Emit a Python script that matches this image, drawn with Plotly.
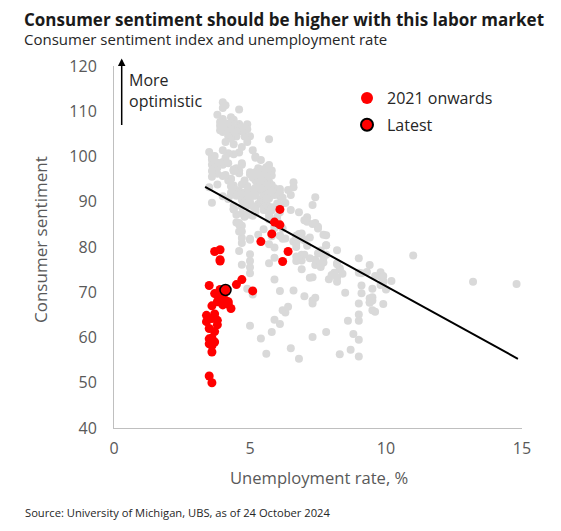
import plotly.graph_objects as go

# Monthly history 1990-2020 (grey cloud): unemployment rate (%) and consumer sentiment
gray_unemp = [
    5.4, 5.3, 5.2, 5.4, 5.4, 5.2, 5.5, 5.7, 5.9, 5.9, 6.2, 6.3,   # 1990
    6.4, 6.6, 6.8, 6.7, 6.9, 6.9, 6.8, 6.9, 6.9, 7.0, 7.0, 7.3,   # 1991
    7.3, 7.4, 7.4, 7.4, 7.6, 7.8, 7.7, 7.6, 7.6, 7.3, 7.4, 7.4,   # 1992
    7.3, 7.1, 7.0, 7.1, 7.1, 7.0, 6.9, 6.8, 6.7, 6.8, 6.6, 6.5,   # 1993
    6.6, 6.6, 6.5, 6.4, 6.1, 6.1, 6.1, 6.0, 5.9, 5.8, 5.6, 5.5,   # 1994
    5.6, 5.4, 5.4, 5.8, 5.6, 5.6, 5.7, 5.7, 5.6, 5.5, 5.6, 5.6,   # 1995
    5.6, 5.5, 5.5, 5.6, 5.6, 5.3, 5.5, 5.1, 5.2, 5.2, 5.4, 5.4,   # 1996
    5.3, 5.2, 5.2, 5.1, 4.9, 5.0, 4.9, 4.8, 4.9, 4.7, 4.6, 4.7,   # 1997
    4.6, 4.6, 4.7, 4.3, 4.4, 4.5, 4.5, 4.5, 4.6, 4.5, 4.4, 4.4,   # 1998
    4.3, 4.4, 4.2, 4.3, 4.2, 4.3, 4.3, 4.2, 4.2, 4.1, 4.1, 4.0,   # 1999
    4.0, 4.1, 4.0, 3.8, 4.0, 4.0, 4.0, 4.1, 3.9, 3.9, 3.9, 3.9,   # 2000
    4.2, 4.2, 4.3, 4.4, 4.3, 4.5, 4.6, 4.9, 5.0, 5.3, 5.5, 5.7,   # 2001
    5.7, 5.7, 5.7, 5.9, 5.8, 5.8, 5.8, 5.7, 5.7, 5.7, 5.9, 6.0,   # 2002
    5.8, 5.9, 5.9, 6.0, 6.1, 6.3, 6.2, 6.1, 6.1, 6.0, 5.8, 5.7,   # 2003
    5.7, 5.6, 5.8, 5.6, 5.6, 5.6, 5.5, 5.4, 5.4, 5.5, 5.4, 5.4,   # 2004
    5.3, 5.4, 5.2, 5.2, 5.1, 5.0, 5.0, 4.9, 5.0, 5.0, 5.0, 4.9,   # 2005
    4.7, 4.8, 4.7, 4.7, 4.6, 4.6, 4.7, 4.7, 4.5, 4.4, 4.5, 4.4,   # 2006
    4.6, 4.5, 4.4, 4.5, 4.4, 4.6, 4.7, 4.6, 4.7, 4.7, 4.7, 5.0,   # 2007
    5.0, 4.9, 5.1, 5.0, 5.4, 5.6, 5.8, 6.1, 6.1, 6.5, 6.8, 7.3,   # 2008
    7.8, 8.3, 8.7, 9.0, 9.4, 9.5, 9.5, 9.6, 9.8, 10.0, 9.9, 9.9,  # 2009
    9.8, 9.8, 9.9, 9.9, 9.6, 9.4, 9.4, 9.5, 9.5, 9.4, 9.8, 9.3,   # 2010
    9.1, 9.0, 9.0, 9.1, 9.0, 9.1, 9.0, 9.0, 9.0, 8.8, 8.6, 8.5,   # 2011
    8.3, 8.3, 8.2, 8.2, 8.2, 8.2, 8.2, 8.1, 7.8, 7.8, 7.7, 7.9,   # 2012
    8.0, 7.7, 7.5, 7.6, 7.5, 7.5, 7.3, 7.2, 7.2, 7.2, 6.9, 6.7,   # 2013
    6.6, 6.7, 6.7, 6.2, 6.3, 6.1, 6.2, 6.1, 5.9, 5.7, 5.8, 5.6,   # 2014
    5.7, 5.5, 5.4, 5.4, 5.6, 5.3, 5.2, 5.1, 5.0, 5.0, 5.1, 5.0,   # 2015
    4.8, 4.9, 5.0, 5.1, 4.8, 4.9, 4.8, 4.9, 5.0, 4.9, 4.7, 4.7,   # 2016
    4.7, 4.6, 4.4, 4.4, 4.4, 4.3, 4.3, 4.4, 4.3, 4.2, 4.2, 4.1,   # 2017
    4.0, 4.1, 4.0, 4.0, 3.8, 4.0, 3.8, 3.8, 3.7, 3.8, 3.8, 3.9,   # 2018
    4.0, 3.8, 3.8, 3.7, 3.6, 3.6, 3.7, 3.6, 3.5, 3.6, 3.6, 3.6,   # 2019
    3.6, 3.5, 4.4, 14.8, 13.2, 11.0, 10.2, 8.4, 7.8, 6.9, 6.7, 6.7,  # 2020
]
gray_sent = [
    93.0, 89.5, 91.3, 93.9, 90.6, 88.3, 88.2, 76.4, 72.8, 63.9, 66.0, 65.5,
    66.8, 70.4, 87.7, 81.8, 78.3, 82.1, 82.9, 82.0, 83.0, 78.3, 69.1, 68.2,
    67.5, 68.8, 76.0, 77.2, 79.2, 80.4, 76.6, 76.1, 75.6, 73.3, 85.3, 91.0,
    89.3, 86.6, 85.9, 85.6, 80.3, 81.5, 77.0, 77.3, 77.9, 82.7, 81.2, 88.2,
    94.3, 93.2, 91.5, 92.6, 92.8, 91.2, 89.0, 91.7, 91.5, 92.7, 91.6, 95.1,
    97.6, 95.1, 90.3, 92.5, 89.8, 92.7, 94.4, 96.2, 88.9, 90.2, 88.2, 91.0,
    89.3, 88.5, 93.7, 92.7, 89.4, 92.4, 94.7, 95.3, 94.7, 96.5, 99.2, 96.9,
    97.4, 99.7, 100.0, 101.4, 103.2, 104.5, 107.1, 104.4, 106.0, 105.6, 107.2, 102.1,
    106.6, 110.4, 106.5, 108.7, 106.5, 105.6, 105.2, 104.4, 100.9, 97.4, 102.7, 100.5,
    103.9, 108.1, 105.7, 104.6, 106.8, 107.3, 106.0, 104.5, 107.2, 103.2, 107.2, 105.4,
    112.0, 111.3, 107.1, 109.2, 110.7, 106.4, 108.3, 107.3, 106.8, 105.8, 107.6, 98.4,
    94.7, 90.6, 91.5, 88.4, 92.0, 92.6, 92.4, 91.5, 81.8, 82.7, 83.9, 88.8,
    93.0, 90.7, 95.7, 93.0, 96.9, 92.4, 88.1, 87.6, 86.1, 80.6, 84.2, 86.7,
    82.4, 79.9, 77.6, 86.0, 92.1, 89.7, 90.9, 89.3, 87.7, 89.6, 93.7, 92.6,
    103.8, 94.4, 95.8, 94.2, 90.2, 95.6, 96.7, 95.9, 94.2, 91.7, 92.8, 97.1,
    95.5, 94.1, 92.6, 87.7, 86.9, 96.0, 96.5, 89.1, 76.9, 74.2, 81.6, 91.5,
    91.2, 86.7, 88.9, 87.4, 79.1, 84.9, 84.7, 82.0, 85.4, 93.6, 92.1, 91.7,
    96.9, 91.3, 88.4, 87.1, 88.3, 85.3, 90.4, 83.4, 83.4, 80.9, 76.1, 75.5,
    78.4, 70.8, 69.5, 62.6, 59.8, 56.4, 61.2, 63.0, 70.3, 57.6, 55.3, 60.1,
    61.2, 56.3, 57.3, 65.1, 68.7, 70.8, 66.0, 65.7, 73.5, 70.6, 67.4, 72.5,
    74.4, 73.6, 73.6, 72.2, 73.6, 76.0, 67.8, 68.9, 68.2, 67.7, 71.6, 74.5,
    74.2, 77.5, 67.5, 69.8, 74.3, 71.5, 63.7, 55.8, 59.5, 60.8, 63.7, 69.9,
    75.0, 75.3, 76.2, 76.4, 79.3, 73.2, 72.3, 74.3, 78.3, 82.6, 82.7, 72.9,
    73.8, 77.6, 78.6, 76.4, 84.5, 84.1, 85.1, 82.1, 77.5, 73.2, 75.1, 82.5,
    81.2, 81.6, 80.0, 84.1, 81.9, 82.5, 81.8, 82.5, 84.6, 86.9, 88.8, 93.6,
    98.1, 95.4, 93.0, 95.9, 90.7, 96.1, 93.1, 91.9, 87.2, 90.0, 91.3, 92.6,
    92.0, 91.7, 91.0, 89.0, 94.7, 93.5, 90.0, 89.8, 91.2, 87.2, 93.8, 98.2,
    98.5, 96.3, 96.9, 97.0, 97.1, 95.0, 93.4, 96.8, 95.1, 100.7, 98.5, 95.9,
    95.7, 99.7, 101.4, 98.8, 98.0, 98.2, 97.9, 96.2, 100.1, 98.6, 97.5, 98.3,
    91.2, 93.8, 98.4, 97.2, 100.0, 98.2, 98.4, 89.8, 93.2, 95.5, 96.8, 99.3,
    99.8, 101.0, 89.1, 71.8, 72.3, 78.1, 72.5, 74.1, 80.4, 81.8, 76.9, 80.7,
]

# 2021 onwards (red)
red_unemp = [
    6.4, 6.2, 6.1, 6.1, 5.8, 5.9, 5.4, 5.1, 4.7, 4.5, 4.2, 3.9,   # 2021
    4.0, 3.8, 3.6, 3.7, 3.6, 3.6, 3.5, 3.6, 3.5, 3.6, 3.6, 3.5,   # 2022
    3.4, 3.6, 3.5, 3.4, 3.7, 3.6, 3.5, 3.8, 3.8, 3.8, 3.7, 3.7,   # 2023
    3.7, 3.9, 3.9, 3.9, 4.0, 4.1, 4.3, 4.2, 4.1, 4.1,             # 2024
]
red_sent = [
    79.0, 76.8, 84.9, 88.3, 82.9, 85.5, 81.2, 70.3, 72.8, 71.7, 67.4, 70.6,
    67.2, 62.8, 59.4, 65.2, 58.4, 50.0, 51.5, 58.2, 58.6, 59.9, 56.8, 59.7,
    64.9, 67.0, 62.0, 63.5, 59.0, 64.2, 71.5, 69.4, 67.9, 63.8, 61.3, 69.7,
    79.0, 76.9, 79.4, 77.2, 69.1, 68.2, 66.4, 67.9, 70.1, 70.5,
]

# Latest observation (October 2024)
latest_unemp = [4.1]
latest_sent = [70.5]

# Fitted line end points
fit_unemp = [3.35, 14.85]
fit_sent = [93.3, 55.3]

x_ticks = [0, 5, 10, 15]
y_ticks = [40, 50, 60, 70, 80, 90, 100, 110, 120]

FONT = "Open Sans"
TXT = "#262626"
AX = "#595959"

# The page adds an 8 px body margin; the figure is sized so it fills the window.
W, H = 553, 523
L, R, T, B = 106, 39, 58, 103
PW, PH = W - L - R, H - T - B


def px(x):
    return (x - L) / PW


def py(y):
    return (H - B - y) / PH


fig = go.Figure()
fig.add_trace(go.Scatter(
    x=gray_unemp, y=gray_sent, mode="markers", showlegend=False,
    marker=dict(color="#d9d9d9", size=8, line=dict(width=0)),
))
fig.add_trace(go.Scatter(
    x=fit_unemp, y=fit_sent, mode="lines", showlegend=False,
    line=dict(color="black", width=2),
))
fig.add_trace(go.Scatter(
    x=red_unemp, y=red_sent, mode="markers", name="2021 onwards", legendgroup="a",
    marker=dict(color="#ff0000", size=9, line=dict(width=0)),
))
fig.add_trace(go.Scatter(
    x=latest_unemp, y=latest_sent, mode="markers", name="Latest", legendgroup="b",
    marker=dict(color="#ff0000", size=11, line=dict(color="black", width=1.5)),
))

fig.update_layout(
    width=W, height=H,
    margin=dict(l=L, r=R, t=T, b=B, autoexpand=False),
    paper_bgcolor="white", plot_bgcolor="white",
    font=dict(family=FONT, color=TXT),
    legend=dict(
        x=px(339), y=py(73), xanchor="left", yanchor="top",
        font=dict(size=16, color=TXT, family=FONT),
        bgcolor="rgba(0,0,0,0)", itemsizing="constant",
        traceorder="grouped", tracegroupgap=3,
    ),
    xaxis=dict(
        range=[0, 15], tickvals=x_ticks, showgrid=False, zeroline=False,
        showline=True, linecolor="#bfbfbf", linewidth=1, automargin=False,
        ticks="", ticklabelstandoff=6, tickfont=dict(size=16, color=AX, family=FONT),
    ),
    yaxis=dict(
        range=[40, 120], tickvals=y_ticks, showgrid=False, zeroline=False,
        showline=True, linecolor="#bfbfbf", linewidth=1, automargin=False,
        ticks="", ticklabelstandoff=13, tickfont=dict(size=16, color=AX, family=FONT),
    ),
    annotations=[
        dict(text="<b>Consumer sentiment should be higher with this labor market</b>",
             xref="paper", yref="paper", x=px(14), y=py(11), xanchor="left", yanchor="middle",
             showarrow=False, font=dict(size=17, color="#1a1a1a", family=FONT)),
        dict(text="Consumer sentiment index and unemployment rate",
             xref="paper", yref="paper", x=px(14), y=py(31), xanchor="left", yanchor="middle",
             showarrow=False, font=dict(size=15, color=TXT, family=FONT)),
        dict(text="Source: University of Michigan, UBS, as of 24 October 2024",
             xref="paper", yref="paper", x=px(15), y=py(504), xanchor="left", yanchor="middle",
             showarrow=False, font=dict(size=11.2, color=TXT, family=FONT)),
        dict(text="Unemployment rate, %",
             xref="paper", yref="paper", x=px(311), y=py(469), xanchor="center", yanchor="middle",
             showarrow=False, font=dict(size=16.6, color=AX, family=FONT)),
        dict(text="Consumer sentiment", textangle=-90,
             xref="paper", yref="paper", x=px(32), y=py(232), xanchor="center", yanchor="middle",
             showarrow=False, font=dict(size=17, color=AX, family=FONT)),
        dict(text="More<br>optimistic", align="left",
             xref="paper", yref="paper", x=px(119), y=py(59), xanchor="left", yanchor="top",
             showarrow=False, font=dict(size=16, color=TXT, family=FONT)),
        dict(text="", xref="paper", yref="paper", x=px(113.7), y=py(50.5),
             showarrow=True, ax=0, ay=68, arrowhead=2, arrowsize=1, arrowwidth=1.5,
             arrowcolor="black"),
    ],
)

fig.write_html("out.html", config={"displayModeBar": False})
